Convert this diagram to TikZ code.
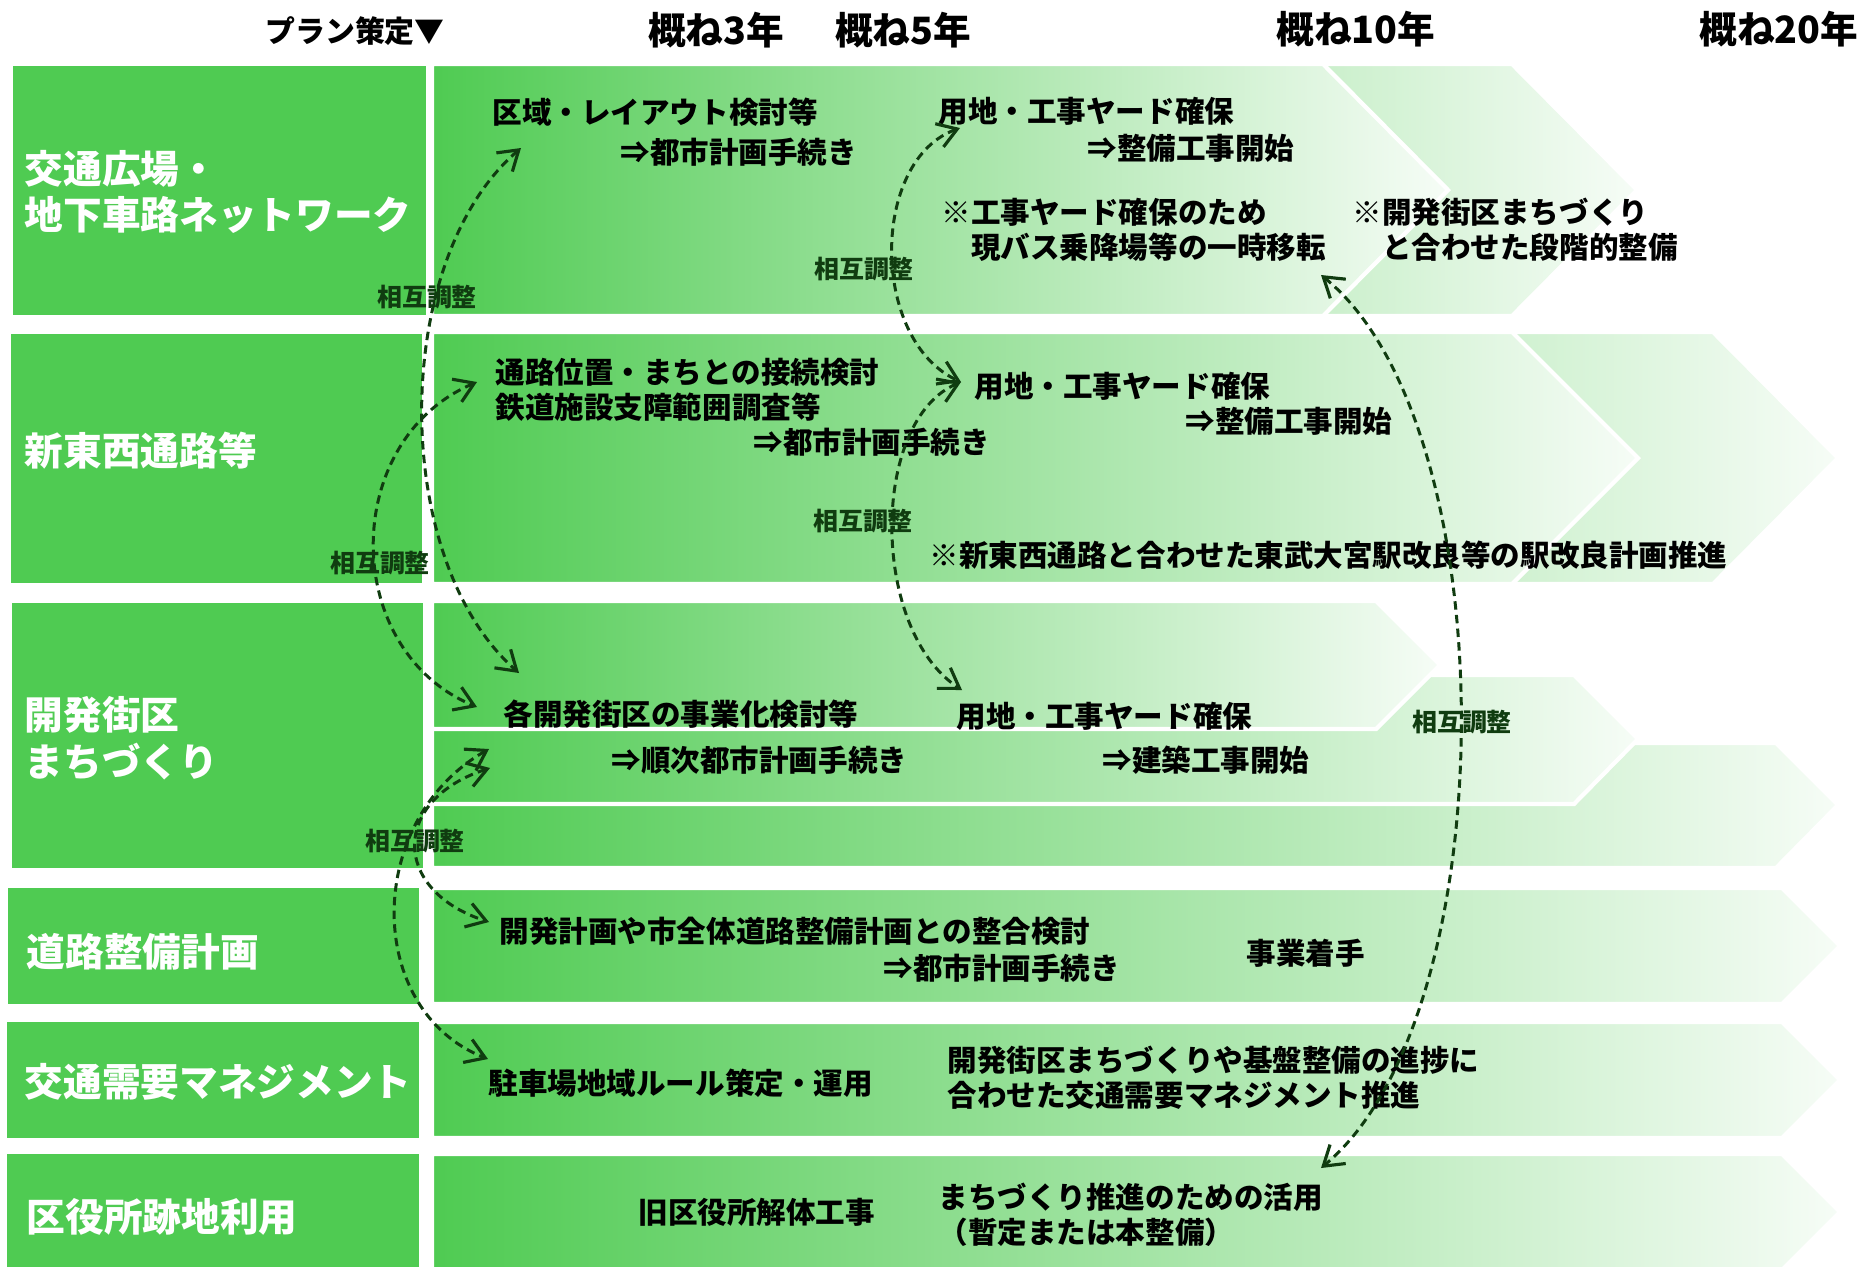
\documentclass[tikz,border=0pt]{standalone}
\usepackage{fontspec}
\newfontfamily\jp{Noto Sans CJK JP}
\usepackage{xcolor}
\usetikzlibrary{arrows.meta}
\definecolor{grn}{RGB}{79,203,82}
\definecolor{dkgrn}{RGB}{16,60,16}

\begin{document}
\begin{tikzpicture}[x=0.01cm,y=-0.01cm,
    head/.style={inner sep=0pt,font=\jp\bfseries\fontsize{10.7}{12}\selectfont},
    rowname/.style={anchor=west,align=left,inner sep=0pt,text=white,font=\jp\bfseries\fontsize{11}{13.3}\selectfont},
    task/.style={anchor=west,align=left,inner sep=0pt,font=\jp\bfseries\fontsize{8.4}{9.9}\selectfont},
    adj/.style={inner sep=0pt,text=dkgrn,font=\jp\bfseries\fontsize{7.1}{8}\selectfont},
    band/.style={left color=grn,right color=grn!5,draw=white,line width=1.2pt},
    link/.style={dkgrn,line width=0.85pt,dash pattern=on 2.4pt off 1.5pt,{Straight Barb[length=5.4pt,width=7pt,line width=0.9pt]}-{Straight Barb[length=5.4pt,width=7pt,line width=0.9pt]}}]
                \clip (0,0) rectangle (1870,1266);
                % left column
                \fill[grn] (13,66) rectangle (426,315);
                \fill[grn] (11,334) rectangle (422,583);
                \fill[grn] (12,603) rectangle (423,868);
                \fill[grn] (8,888) rectangle (419,1004);
                \fill[grn] (7,1022) rectangle (419,1138);
                \fill[grn] (7,1154) rectangle (419,1270);
                % time bands
                \path[band] (432,64) -- (1512,64) -- (1637,190) -- (1512,316) -- (432,316) -- cycle;
                \path[band] (432,64) -- (1323,64) -- (1448,190) -- (1323,316) -- (432,316) -- cycle;
                \path[band] (432,332) -- (1713,332) -- (1838,458) -- (1713,584) -- (432,584) -- cycle;
                \path[band] (432,332) -- (1512,332) -- (1638,458) -- (1512,584) -- (432,584) -- cycle;
                \path[band] (432,743) -- (1776,743) -- (1838,805) -- (1776,868) -- (432,868) -- cycle;
                \path[band] (432,675) -- (1574,675) -- (1638,739) -- (1574,804) -- (432,804) -- cycle;
                \path[band] (432,601) -- (1376,601) -- (1440,665) -- (1376,729) -- (432,729) -- cycle;
                \path[band] (432,888) -- (1782,888) -- (1840,946) -- (1782,1004) -- (432,1004) -- cycle;
                \path[band] (432,1022) -- (1782,1022) -- (1840,1080) -- (1782,1138) -- (432,1138) -- cycle;
                \path[band] (432,1154) -- (1782,1154) -- (1840,1212) -- (1782,1270) -- (432,1270) -- cycle;
                % headers
                \node[head,font=\jp\bfseries\fontsize{8.5}{10}\selectfont] (plan) at (355,31) {プラン策定▼};
                \node[head] (y3) at (716,30) {概ね3年};
                \node[head] (y5) at (903,30) {概ね5年};
                \node[head] (y10) at (1356,29) {概ね10年};
                \node[head] (y20) at (1779,29) {概ね20年};
                % row names
                \node[rowname] (n1) at (24,192) {交通広場・\\地下車路ネットワーク};
                \node[rowname] (n2) at (24,451) {新東西通路等};
                \node[rowname] (n3) at (24,738) {開発街区\\まちづくり};
                \node[rowname] (n4) at (26,952) {道路整備計画};
                \node[rowname] (n5) at (24,1082) {交通需要マネジメント};
                \node[rowname] (n6) at (26,1217) {区役所跡地利用};
                % tasks
                \node[task] (r1a) at (492,112) {区域・レイアウト検討等};
                \node[task] (r1b) at (620,152) {⇒都市計画手続き};
                \node[task] (r1c) at (938,111) {用地・工事ヤード確保};
                \node[task] (r1d) at (1087,148) {⇒整備工事開始};
                \node[task] (r1e) at (941,230) {※工事ヤード確保のため\\　現バス乗降場等の一時移転};
                \node[task] (r1f) at (1352,230) {※開発街区まちづくり\\　と合わせた段階的整備};
                \node[task] (r2a) at (495,390) {通路位置・まちとの接続検討\\鉄道施設支障範囲調査等};
                \node[task] (r2b) at (753,442) {⇒都市計画手続き};
                \node[task] (r2c) at (974,386) {用地・工事ヤード確保};
                \node[task] (r2d) at (1185,421) {⇒整備工事開始};
                \node[task] (r2e) at (929,555) {※新東西通路と合わせた東武大宮駅改良等の駅改良計画推進};
                \node[task] (r3a) at (503,714) {各開発街区の事業化検討等};
                \node[task] (r3b) at (956,716) {用地・工事ヤード確保};
                \node[task] (r3c) at (611,760) {⇒順次都市計画手続き};
                \node[task] (r3d) at (1102,760) {⇒建築工事開始};
                \node[task] (r4a) at (499,931) {開発計画や市全体道路整備計画との整合検討};
                \node[task] (r4b) at (883,968) {⇒都市計画手続き};
                \node[task] (r4c) at (1246,953) {事業着手};
                \node[task] (r5a) at (488,1083) {駐車場地域ルール策定・運用};
                \node[task] (r5b) at (947,1078) {開発街区まちづくりや基盤整備の進捗に\\合わせた交通需要マネジメント推進};
                \node[task] (r6a) at (638,1212) {旧区役所解体工事};
                \node[task] (r6b) at (938,1215) {まちづくり推進のための活用\\（暫定または本整備）};
                % links
                \coordinate (a1) at (521,148); \coordinate (a2) at (519,673);
                \coordinate (b1) at (477,382); \coordinate (b2) at (477,707);
                \coordinate (c1) at (960,128); \coordinate (c2) at (961,382);
                \coordinate (d2) at (962,690);
                \coordinate (e1) at (1321,275); \coordinate (e2) at (1321,1168);
                \coordinate (f1) at (489,749); \coordinate (f2) at (488,1059);
                \coordinate (g1) at (490,768); \coordinate (g2) at (489,922);
                \draw[link] (a1) .. controls (390,260) and (390,560) .. (a2);
                \draw[link] (b1) .. controls (340,440) and (340,650) .. (b2);
                \draw[link] (c1) .. controls (870,160) and (870,340) .. (c2);
                \draw[link] (c2) .. controls (870,420) and (870,630) .. (d2);
                \draw[link] (e1) .. controls (1507,425) and (1507,1014) .. (e2);
                \draw[link] (f1) .. controls (364,820) and (364,1010) .. (f2);
                \draw[link] (g1) .. controls (391,800) and (391,890) .. (g2);
                \node[adj] (m1) at (427,297) {相互調整};
                \node[adj] (m2) at (864,269) {相互調整};
                \node[adj] (m3) at (380,563) {相互調整};
                \node[adj] (m4) at (863,521) {相互調整};
                \node[adj] (m5) at (1462,722) {相互調整};
                \node[adj] (m6) at (415,841) {相互調整};
            \end{tikzpicture}
\end{document}
